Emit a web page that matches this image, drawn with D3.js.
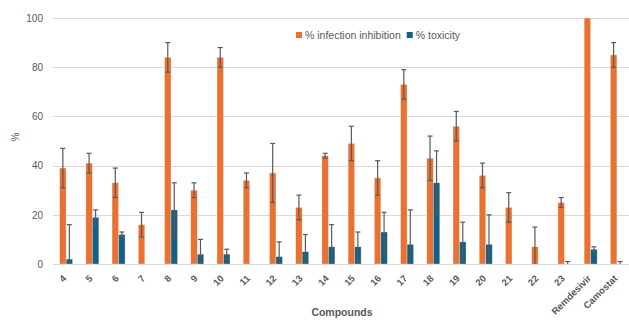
<!DOCTYPE html>
<head>
    <meta charset="utf-8">
    <title>Compounds</title>
<style>
    body {
        margin: 0;
        background: #fff;
        font-family: "Liberation Sans", Arial, sans-serif;
    }

    .tick text {
        fill: #595959;
        font-size: 10px;
    }

    .xaxis .tick text {
        font-weight: bold;
        font-size: 9.5px;
    }

    .legend text {
        fill: #595959;
        font-size: 10.5px;
    }

    .title {
        fill: #595959;
        font-size: 10.5px;
        font-weight: bold;
    }
</style>
</head>
<body>
<script src="https://d3js.org/d3.v7.min.js"></script>
<script>

    const compounds = ["4", "5", "6", "7", "8", "9", "10", "11", "12", "13", "14", "15", "16", "17", "18",
        "19", "20", "21", "22", "23", "Remdesivir", "Camostat"];
    const inhibition = [39, 41, 33, 16, 84, 30, 84, 34, 37, 23, 44, 49, 35, 73, 43, 56, 36, 23, 7, 25, 100, 85];
    const inhibitionErr = [8, 4, 6, 5, 6, 3, 4, 3, 12, 5, 1, 7, 7, 6, 9, 6, 5, 6, 8, 2, 0, 5];
    const toxicity = [2, 19, 12, 0, 22, 4, 4, 0, 3, 5, 7, 7, 13, 8, 33, 9, 8, 0, 0, 0, 6, 0];
    const toxicityErr = [14, 3, 1, 0, 11, 6, 2, 0, 6, 7, 9, 6, 8, 14, 13, 8, 12, 0, 0, 1, 1, 1];
    const seriesNames = ["% infection inhibition", "% toxicity"];
    const yTicks = [0, 20, 40, 60, 80, 100];

    const colors = ["#E97132", "#156082"];

    var width = 629, height = 320;
    var margin = {top: 18, right: 0, bottom: 56, left: 53};

    var svg = d3.select("body").append("svg")
            .attr("width", width)
            .attr("height", height);

    const x = d3.scaleBand().domain(compounds).range([margin.left, 630]);
    const y = d3.scaleLinear().domain([0, 100]).range([height - margin.bottom, margin.top]);
    const bw = 6.5;

    // gridlines
    svg.append('g')
        .selectAll('line')
        .data(yTicks)
        .join('line')
        .attr('x1', margin.left)
        .attr('x2', width)
        .attr('y1', d => Math.round(y(d)) + 0.5)
        .attr('y2', d => Math.round(y(d)) + 0.5)
        .attr('stroke', '#d9d9d9')
        .attr('stroke-width', 1);

    const yAxis = svg.append('g')
        .attr('transform', `translate(${margin.left},0)`)
        .call(d3.axisLeft(y).tickValues(yTicks).tickSize(0).tickPadding(10));
    yAxis.select('.domain').remove();

    const rows = compounds.map((c, i) => ({
        c: c,
        vals: [[inhibition[i], inhibitionErr[i]], [toxicity[i], toxicityErr[i]]]
    }));

    const group = svg.selectAll('.group')
        .data(rows)
        .join('g')
        .attr('class', 'group')
        .attr('transform', d => `translate(${x(d.c) + x.bandwidth() / 2},0)`);

    const bar = group.selectAll('.bar')
        .data(d => d.vals.map((v, k) => ({v: v[0], e: v[1], k: k})))
        .join('g')
        .attr('class', 'bar');

    bar.append('rect')
        .attr('x', d => d.k === 0 ? -bw : 0)
        .attr('width', bw)
        .attr('y', d => y(d.v))
        .attr('height', d => y(0) - y(d.v))
        .attr('fill', d => colors[d.k])
        .attr('stroke', '#fff')
        .attr('stroke-opacity', 0.5)
        .attr('stroke-width', 0.6);

    const err = bar.filter(d => d.e > 0).append('g')
        .attr('stroke', '#595959')
        .attr('stroke-width', 1.2);

    const cx = d => (d.k === 0 ? -bw / 2 : bw / 2);
    const hi = d => y(Math.min(100, d.v + d.e));
    const lo = d => y(Math.max(0, d.v - d.e));

    err.append('line')
        .attr('x1', cx).attr('x2', cx)
        .attr('y1', hi).attr('y2', lo);
    err.append('line')
        .attr('x1', d => cx(d) - 2.5).attr('x2', d => cx(d) + 2.5)
        .attr('y1', hi).attr('y2', hi);
    err.filter(d => d.v - d.e > 0).append('line')
        .attr('x1', d => cx(d) - 2.5).attr('x2', d => cx(d) + 2.5)
        .attr('y1', lo).attr('y2', lo);

    // x axis
    const xAxis = svg.append('g')
        .attr('class', 'xaxis')
        .attr('transform', `translate(0,${y(0)})`)
        .call(d3.axisBottom(x).tickSize(0).tickPadding(0));
    xAxis.select('.domain').remove();
    xAxis.selectAll('.tick text')
        .attr('text-anchor', 'end')
        .attr('y', 0)
        .attr('dy', null)
        .attr('transform', 'translate(1,15) rotate(-45)');

    svg.append('text')
        .attr('class', 'title')
        .attr('text-anchor', 'middle')
        .attr('x', 342)
        .attr('y', 316)
        .text('Compounds');

    svg.append('text')
        .attr('class', 'title')
        .attr('text-anchor', 'middle')
        .style('font-weight', 'normal')
        .style('font-size', '10px')
        .attr('transform', 'translate(19,137) rotate(-90)')
        .text('%');

    // legend
    const legend = svg.append('g').attr('class', 'legend');
    let lx = 296;
    seriesNames.forEach((s, k) => {
        legend.append('rect')
            .attr('x', lx).attr('y', 32)
            .attr('width', 6).attr('height', 6)
            .attr('fill', colors[k]);
        const t = legend.append('text')
            .attr('x', lx + 9).attr('y', 39)
            .text(s);
        lx += 9 + t.node().getComputedTextLength() + 6;
    });
</script>
